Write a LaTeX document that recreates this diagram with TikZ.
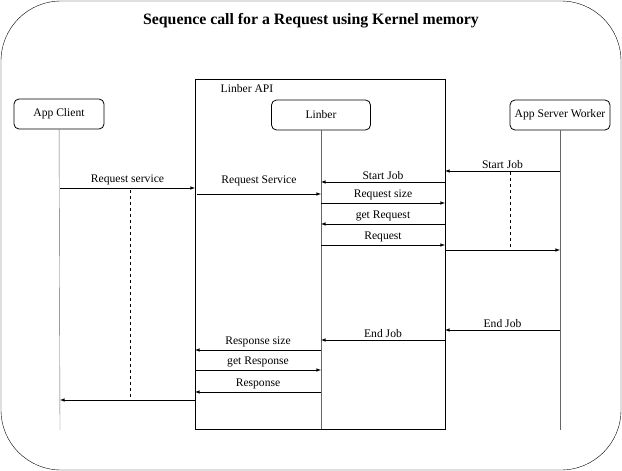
\documentclass[tikz,border=0pt]{standalone}
\usepackage{fontspec}
\setmainfont{Liberation Serif}
\usetikzlibrary{positioning}
\begin{document}
\begin{tikzpicture}[x=1pt, y=-1pt, -latex, font=\fontsize{11.6}{13}\selectfont,
    actor/.style = {draw, thick, rounded corners=5pt, minimum width=90pt, minimum height=30pt, inner sep=1pt},
    lifeline/.style = {-, draw=black!60},
    msg/.style = {-latex, black, semithick},
    lbl/.style = {draw=none, inner sep=2.5pt}]
        \useasboundingbox (0,0) rectangle (622,471);
        \draw [-, rounded corners=60pt] (1,1) rectangle (621,470);
        \node[lbl] (title) at (311,21) {\fontsize{15.8}{18}\selectfont\bfseries Sequence call for a Request using Kernel memory};

        \draw [-] (195,79) rectangle (445,429);
        \node[lbl] (api) at (247,89) {Linber API};

        \node[actor] (client) at (59,114) {App Client};
        \node[actor, minimum width=99pt] (linber) at (321,115) {Linber};
        \node[actor, minimum width=100pt] (worker) at (560,115) {App Server Worker};

        \coordinate (clientend) at (60,430);
        \coordinate (linberend) at (321,429);
        \coordinate (workerend) at (560,430);
        \draw [lifeline] (client) -- (clientend);
        \draw [lifeline] (linber) -- (linberend);
        \draw [lifeline] (worker) -- (workerend);

        % request
        \coordinate (c1) at (60,188);   \coordinate (a1) at (195,188);
        \coordinate (a2) at (197,194);  \coordinate (l2) at (321,194);
        \coordinate (w3) at (560,171);  \coordinate (a3) at (445,171);
        \coordinate (a4) at (445,182);  \coordinate (l4) at (321,182);
        \coordinate (l5) at (321,203);  \coordinate (a5) at (445,203);
        \coordinate (a6) at (445,224);  \coordinate (l6) at (321,224);
        \coordinate (l7) at (321,245);  \coordinate (a7) at (445,245);
        \coordinate (a8) at (445,250);  \coordinate (w8) at (560,250);

        \draw [msg] (c1) -- node[lbl, above] {Request service} (a1);
        \draw [msg] (a2) -- node[lbl, above, yshift=5pt] {Request Service} (l2);
        \draw [msg] (w3) -- node[lbl, above] {Start Job} (a3);
        \draw [msg] (a4) -- node[lbl, above] {Start Job} (l4);
        \draw [msg] (l5) -- node[lbl, above] {Request size} (a5);
        \draw [msg] (a6) -- node[lbl, above] {get Request} (l6);
        \draw [msg] (l7) -- node[lbl, above] {Request} (a7);
        \draw [msg] (a8) -- (w8);

        % response
        \coordinate (w9) at (560,330);  \coordinate (a9) at (445,330);
        \coordinate (a10) at (445,340); \coordinate (l10) at (321,340);
        \coordinate (l11) at (321,350); \coordinate (a11) at (195,350);
        \coordinate (a12) at (195,370); \coordinate (l12) at (321,370);
        \coordinate (l13) at (321,392); \coordinate (a13) at (195,392);
        \coordinate (a14) at (195,400); \coordinate (c14) at (60,400);

        \draw [msg] (w9) -- node[lbl, above] {End Job} (a9);
        \draw [msg] (a10) -- node[lbl, above] {End Job} (l10);
        \draw [msg] (l11) -- node[lbl, above] {Response size} (a11);
        \draw [msg] (a12) -- node[lbl, above] {get Response} (l12);
        \draw [msg] (l13) -- node[lbl, above] {Response} (a13);
        \draw [msg] (a14) -- (c14);

        % waiting
        \coordinate (d1) at (130,190);  \coordinate (d2) at (130,398);
        \coordinate (d3) at (510,172);  \coordinate (d4) at (510,250);
        \draw [-, dashed] (d1) -- (d2);
        \draw [-, dashed] (d3) -- (d4);
    \end{tikzpicture}
\end{document}
